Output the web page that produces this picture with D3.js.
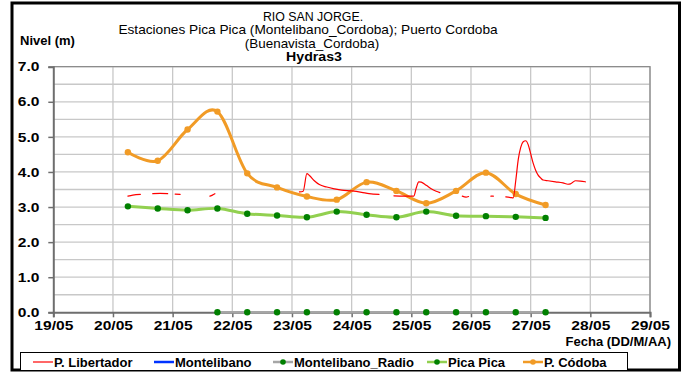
<!DOCTYPE html>
<html>
<head>
<meta charset="utf-8">
<script src="https://cdn.jsdelivr.net/npm/d3@7/dist/d3.min.js"></script>
<style>
  html, body { margin: 0; padding: 0; background: #fff; }
  svg { display: block; font-family: "Liberation Sans", Arial, sans-serif; }
</style>
</head>
<body>
<svg id="chart" width="684" height="373"></svg>
<script>
// ---- data ----
const titleLines = [
  "RIO SAN JORGE.",
  "Estaciones Pica Pica (Montelibano_Cordoba); Puerto Cordoba",
  "(Buenavista_Cordoba)"
];
const subtitle = "Hydras3";
const yLabel = "Nivel (m)";
const xLabel = "Fecha (DD/M/AA)";

const axisStart = "19/05 00:00";
const axisEnd = "29/05 00:00";
const yTicks = [0, 1, 2, 3, 4, 5, 6, 7];

// 12-hourly readings
const sampleTimes = [
  "20/05 06:00", "20/05 18:00", "21/05 06:00", "21/05 18:00", "22/05 06:00",
  "22/05 18:00", "23/05 06:00", "23/05 18:00", "24/05 06:00", "24/05 18:00",
  "25/05 06:00", "25/05 18:00", "26/05 06:00", "26/05 18:00", "27/05 06:00"
];
const picaPica = [3.02, 2.96, 2.91, 2.96, 2.81, 2.76, 2.71, 2.87, 2.78, 2.71, 2.87, 2.75, 2.74, 2.72, 2.69];
const pCordoba = [4.56, 4.32, 5.21, 5.72, 3.96, 3.56, 3.30, 3.21, 3.71, 3.46, 3.11, 3.46, 3.98, 3.37, 3.06];
const montelibanoRadio = [null, null, null, 0, 0, 0, 0, 0, 0, 0, 0, 0, 0, 0, 0];

// Montelibano: no readings in this period
const montelibano = [];

// P. Libertador: irregular readings, null marks a gap in transmission
const libertadorTimes = [
  "20/05 06:00", "20/05 08:00", "20/05 11:00", "20/05 12:00",
  "20/05 16:00", "20/05 19:00", "20/05 22:00", "20/05 23:00",
  "21/05 01:00", "21/05 03:00", "21/05 04:00",
  "21/05 15:00", "21/05 16:00", "21/05 17:00", "21/05 18:00",
  "23/05 03:00", "23/05 04:30", "23/05 06:00", "23/05 07:00", "23/05 09:00", "23/05 11:00",
  "23/05 14:00", "23/05 17:00", "23/05 20:00", "24/05 00:00", "24/05 04:00", "24/05 07:00",
  "24/05 11:00", "24/05 13:00",
  "24/05 17:00", "24/05 21:00", "25/05 01:00", "25/05 02:00", "25/05 03:00", "25/05 04:00",
  "25/05 06:00", "25/05 08:00", "25/05 10:00", "25/05 11:30", "25/05 14:00",
  "25/05 20:30", "25/05 22:00", "25/05 23:00", "26/05 03:00",
  "26/05 08:00", "26/05 09:00", "26/05 12:00",
  "26/05 14:00", "26/05 16:00", "26/05 17:00", "26/05 18:00", "26/05 19:00", "26/05 20:00",
  "26/05 21:00", "26/05 22:00", "26/05 23:00", "27/05 00:00", "27/05 01:00", "27/05 02:00",
  "27/05 03:00", "27/05 04:00", "27/05 05:00", "27/05 07:00", "27/05 10:00", "27/05 13:00",
  "27/05 15:00", "27/05 16:00", "27/05 17:00", "27/05 18:00", "27/05 20:00", "27/05 22:00"
];
const libertador = [
  3.31, 3.34, 3.36, null,
  3.38, 3.39, 3.38, null,
  3.37, 3.36, null,
  3.31, 3.34, 3.38, null,
  3.43, 3.45, 3.95, 3.90, 3.75, 3.64,
  3.57, 3.52, 3.48, 3.46, 3.42, 3.38,
  3.36, null,
  3.32, 3.31, 3.31, 3.55, 3.72, 3.71,
  3.62, 3.52, 3.45, 3.41, null,
  3.31, 3.28, 3.30, null,
  3.31, 3.31, null,
  3.29, 3.27, 3.26, 3.75, 4.35, 4.70,
  4.86, 4.89, 4.78, 4.52, 4.25, 4.05,
  3.91, 3.83, 3.77, 3.75, 3.72, 3.69,
  3.65, 3.66, 3.71, 3.75, 3.74, 3.72
];

const legendItems = [
  { name: "P. Libertador", key: "lib" },
  { name: "Montelibano", key: "mon" },
  { name: "Montelibano_Radio", key: "radio" },
  { name: "Pica Pica", key: "pica" },
  { name: "P. Códoba", key: "cor" }
];

// ---- styles ----
const style = {
  lib:   { stroke: "#ff0000", width: 1.2, dot: null },
  mon:   { stroke: "#0033ff", width: 2.5, dot: null },
  radio: { stroke: "#a6a6a6", width: 2.5, dot: "#008000" },
  pica:  { stroke: "#92d050", width: 3, dot: "#008000" },
  cor:   { stroke: "#f19b26", width: 3, dot: "#f19b26" }
};
const axisFont = 13;
const axisStretch = 1.2;   // axis labels are set wide

const parse = d3.timeParse("%d/%m %H:%M");
const svg = d3.select("#chart");
const plot = { left: 53.3, right: 650, top: 66.7, bottom: 312.3 };

const x = d3.scaleTime().domain([parse(axisStart), parse(axisEnd)]).range([plot.left, plot.right]);
const y = d3.scaleLinear().domain([0, 7]).range([plot.bottom, plot.top]);

svg.append("rect").attr("width", 684).attr("height", 373).attr("fill", "#fff");

// outer frame
svg.append("rect")
  .attr("x", 12).attr("y", 3).attr("width", 667.5).attr("height", 367)
  .attr("fill", "none").attr("stroke", "#000").attr("stroke-width", 3);

// titles: 12px type, widened horizontally
const titleG = svg.append("g").attr("text-anchor", "middle").attr("fill", "#000").attr("font-size", 12);
const titleLayout = [
  { cx: 313, y: 20.5, sx: 1.03 },
  { cx: 308, y: 34, sx: 1.14 },
  { cx: 312, y: 47.5, sx: 1.12 }
];
titleLines.forEach((t, i) => {
  const L = titleLayout[i];
  titleG.append("text").attr("transform", `translate(${L.cx},${L.y}) scale(${L.sx},1)`).text(t);
});
titleG.append("text").attr("transform", "translate(314,61.3) scale(1.18,1)")
  .attr("font-weight", "bold").text(subtitle);

svg.append("text").attr("x", 20).attr("y", 45).attr("font-size", 13).attr("font-weight", "bold").text(yLabel);

// gridlines
const grid = svg.append("g").attr("stroke", "#c8c8c8").attr("stroke-width", 1.3);
d3.range(0.5, 7.01, 0.5).forEach(v => {
  grid.append("line").attr("x1", plot.left).attr("x2", plot.right).attr("y1", y(v)).attr("y2", y(v));
});
x.ticks(d3.timeDay.every(1)).slice(1).forEach(d => {
  grid.append("line").attr("x1", x(d)).attr("x2", x(d)).attr("y1", plot.top).attr("y2", plot.bottom);
});

// plot frame top/right
svg.append("path")
  .attr("d", `M${plot.left},${plot.top}H${plot.right}V${plot.bottom}`)
  .attr("fill", "none").attr("stroke", "#8c8c8c").attr("stroke-width", 1.3);

// axes
const yAxis = svg.append("g").attr("transform", `translate(${plot.left},0)`)
  .call(d3.axisLeft(y).tickValues(yTicks).tickFormat(d3.format(".1f")).tickSize(5).tickPadding(5));
const xAxis = svg.append("g").attr("transform", `translate(0,${plot.bottom})`)
  .call(d3.axisBottom(x).ticks(d3.timeDay.every(1)).tickFormat(d3.timeFormat("%d/%m")).tickSize(5).tickPadding(5));
[yAxis, xAxis].forEach(a => {
  a.select(".domain").attr("stroke", "#6e6e6e").attr("stroke-width", 2);
  a.selectAll(".tick line").attr("stroke", "#6e6e6e").attr("stroke-width", 1.5);
  a.selectAll("text").attr("font-size", axisFont).attr("font-weight", "bold").attr("fill", "#000")
    .attr("font-family", "'Liberation Sans', Arial, sans-serif")
    .attr("transform", `scale(${axisStretch},1)`);
});
yAxis.selectAll(".tick text").attr("x", -13.8 / axisStretch);
xAxis.selectAll(".tick text").attr("y", 8);

svg.append("text").attr("x", 671).attr("y", 345.5).attr("text-anchor", "end")
  .attr("font-size", 13).attr("font-weight", "bold").text(xLabel);

// series
const pts = (times, vals) => times.map((t, i) => ({ t: parse(t), v: vals[i] }));
const smooth = d3.line().defined(d => d.v != null).x(d => x(d.t)).y(d => y(d.v)).curve(d3.curveCardinal.tension(0));
const straight = d3.line().defined(d => d.v != null).x(d => x(d.t)).y(d => y(d.v));

const series = [
  { key: "radio", data: pts(sampleTimes, montelibanoRadio), line: straight },
  { key: "pica", data: pts(sampleTimes, picaPica), line: smooth },
  { key: "cor", data: pts(sampleTimes, pCordoba), line: smooth },
  { key: "lib", data: pts(libertadorTimes, libertador), line: d3.line().defined(d => d.v != null).x(d => x(d.t)).y(d => y(d.v)).curve(d3.curveMonotoneX) },
  { key: "mon", data: montelibano.map(d => ({ t: parse(d[0]), v: d[1] })), line: straight }
];

series.forEach(s => {
  const st = style[s.key];
  svg.append("path").datum(s.data).attr("d", s.line)
    .attr("fill", "none").attr("stroke", st.stroke).attr("stroke-width", st.width)
    .attr("stroke-linejoin", "round").attr("stroke-linecap", "round");
  if (st.dot) {
    svg.append("g").selectAll("circle").data(s.data.filter(d => d.v != null)).join("circle")
      .attr("cx", d => x(d.t)).attr("cy", d => y(d.v)).attr("r", 3.2).attr("fill", st.dot);
  }
});

// legend
const lg = svg.append("g");
lg.append("rect").attr("x", 20.5).attr("y", 352.5).attr("width", 607).attr("height", 18)
  .attr("fill", "#fff").attr("stroke", "#000").attr("stroke-width", 1);
const legendX = [33, 154, 273, 427, 523];
legendItems.forEach((it, i) => {
  const st = style[it.key];
  const g = lg.append("g").attr("transform", `translate(${legendX[i]},362)`);
  g.append("line").attr("x1", 0).attr("x2", 20).attr("stroke", st.stroke).attr("stroke-width", st.width === 3 ? 2.5 : st.width);
  if (st.dot) g.append("circle").attr("cx", 10).attr("r", 2.8).attr("fill", st.dot);
  g.append("text").attr("x", 21).attr("y", 4.5).attr("font-size", 13).attr("font-weight", "bold").text(it.name);
});
</script>
</body>
</html>
